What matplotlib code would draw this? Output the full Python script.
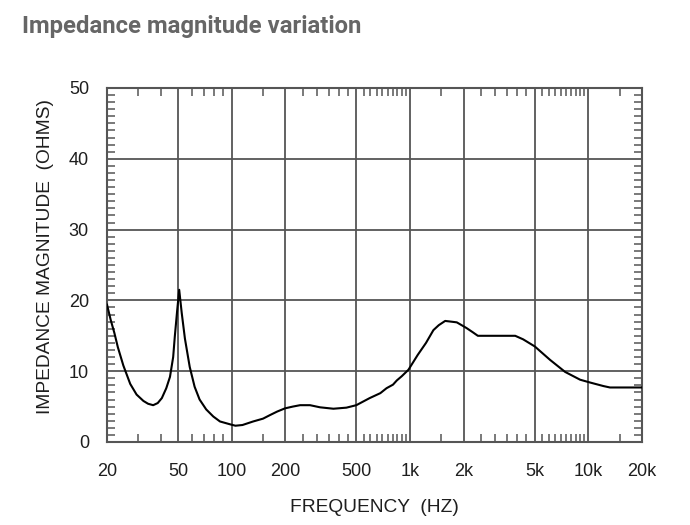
import matplotlib
matplotlib.use("Agg")
from matplotlib import pyplot as plt
from matplotlib.ticker import FixedLocator, MultipleLocator, NullFormatter

# impedance curve (Hz, ohms)
freq_hz = [20, 21, 22, 23, 24.7, 27, 29.3, 32, 34, 36.3, 38.5, 40.6, 43, 45.1, 47,
           48, 49.5, 50.8, 52.5, 54.7, 58.2, 62, 66.1, 72, 78.9, 86, 97.9, 105,
           115, 132, 150, 164, 180, 199, 220, 242, 275, 313, 372, 440, 500, 594,
           682, 739, 803, 844, 900, 980, 1105, 1230, 1353, 1450, 1575, 1700, 1830,
           2074, 2250, 2402, 3891, 4311, 5008, 6102, 7410, 8993, 10234, 12160,
           13230, 20000]
impedance_ohm = [19.4, 17.2, 15.4, 13.4, 10.8, 8.2, 6.7, 5.8, 5.4, 5.2, 5.5, 6.2,
                 7.6, 9.2, 12.0, 14.9, 18.6, 21.5, 18.2, 14.6, 10.6, 7.8, 6.0, 4.6,
                 3.6, 2.9, 2.5, 2.3, 2.4, 2.9, 3.3, 3.8, 4.3, 4.75, 5.0, 5.2, 5.2,
                 4.9, 4.7, 4.85, 5.2, 6.2, 6.9, 7.6, 8.1, 8.7, 9.3, 10.2, 12.3, 14.0,
                 15.8, 16.5, 17.1, 17.0, 16.9, 16.1, 15.5, 15.0, 15.0, 14.5, 13.5,
                 11.6, 9.9, 8.8, 8.4, 7.9, 7.7, 7.7]

major_freqs = [20, 50, 100, 200, 500, 1000, 2000, 5000, 10000, 20000]
major_labels = ["20", "50", "100", "200", "500", "1k", "2k", "5k", "10k", "20k"]
minor_freqs = ([30, 40, 60, 70, 80, 90, 150]
               + [250, 300, 350, 400, 450]
               + [550, 600, 650, 700, 750, 800, 850, 900, 950]
               + [1500, 2500, 3000, 3500, 4000, 4500]
               + [5500, 6000, 6500, 7000, 7500, 8000, 8500, 9000, 9500]
               + [15000])

W, H = 690, 525
AX_L, AX_R, AX_T, AX_B = 107, 642, 88, 442
line_col = "#555555"
txt_col = "#1e1e1e"
fig = plt.figure(figsize=(W / 100, H / 100), dpi=100)
ax = fig.add_axes([AX_L / W, (H - AX_B) / H, (AX_R - AX_L) / W, (AX_B - AX_T) / H])

ax.plot(freq_hz, impedance_ohm, color="black", lw=1.5, zorder=3)

ax.set_xscale("log")
ax.set_xlim(20, 20000)
ax.set_ylim(0, 50)

ax.xaxis.set_major_locator(FixedLocator(major_freqs))
ax.set_xticklabels(major_labels)
ax.xaxis.set_minor_locator(FixedLocator(minor_freqs))
ax.xaxis.set_minor_formatter(NullFormatter())
ax.yaxis.set_major_locator(MultipleLocator(10))
ax.yaxis.set_minor_locator(MultipleLocator(1))

for lab in ax.get_xticklabels() + ax.get_yticklabels():
    lab.set_fontfamily("Liberation Sans")
    lab.set_fontsize(13)
    lab.set_color(txt_col)

ax.tick_params(which="major", direction="in", length=0, pad=15)
ax.tick_params(axis="y", which="major", pad=13)
ax.tick_params(which="minor", direction="in", length=6, width=1.1,
               color=line_col, top=True, right=True)

ax.grid(which="major", color=line_col, lw=1.3)
for sp in ax.spines.values():
    sp.set_color(line_col)
    sp.set_linewidth(1.5)

label_font = {"family": "Liberation Sans", "size": 13.8}
ax.set_xlabel("FREQUENCY  (HZ)", fontdict=label_font, color=txt_col, va="center")
ax.set_ylabel("IMPEDANCE MAGNITUDE  (OHMS)", fontdict=label_font, color=txt_col,
              va="center")
ax.xaxis.set_label_coords(0.5, (AX_B - 508) / (AX_B - AX_T))
ax.yaxis.set_label_coords((45 - AX_L) / (AX_R - AX_L), (AX_B - 256) / (AX_B - AX_T))

fig.text(22 / W, 1 - 33 / H, "Impedance magnitude variation", family="Roboto",
         weight="bold", size=17.2, color="#666666", va="baseline")

fig.savefig("out.png", dpi=100)
